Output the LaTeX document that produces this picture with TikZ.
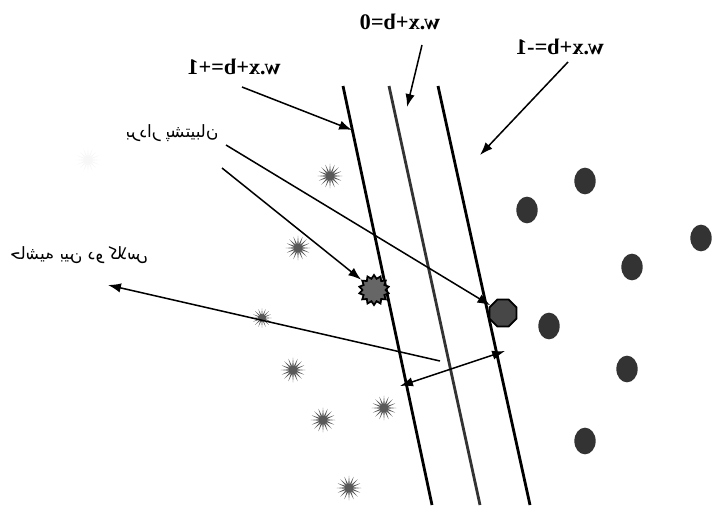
\documentclass[tikz,border=0pt]{standalone}
\usepackage{fontspec}
\usepackage{graphicx}
\newfontfamily\arabicfont[Script=Arabic]{DejaVu Sans}
\newfontfamily\eqfont{Liberation Serif}
\TeXXeTstate=1
\usetikzlibrary{shapes.geometric,arrows.meta}

\tikzset{
    pointer/.style={-{Latex[length=11pt,width=8pt]}, line width=1.3pt},
    plane/.style={line width=2.4pt},
    eqlabel/.style={font=\eqfont\bfseries\fontsize{19}{21}\selectfont, inner sep=0pt},
    falabel/.style={font=\arabicfont\fontsize{14.5}{16}\selectfont, inner sep=0pt},
    posstar/.style={star, star points=16, star point ratio=3.2, fill=black!65, minimum size=0.74cm, inner sep=0pt},
    negdot/.style={ellipse, fill=black!80, minimum width=0.64cm, minimum height=0.8cm, inner sep=0pt}
}

\begin{document}
\begin{tikzpicture}[x=0.03cm, y=-0.03cm]
    \useasboundingbox (0,0) rectangle (712,505);

    \coordinate (plus-top) at (343,86);
    \coordinate (plus-bot) at (432,505);
    \coordinate (zero-top) at (389,86);
    \coordinate (zero-bot) at (480,505);
    \coordinate (minus-top) at (438,86);
    \coordinate (minus-bot) at (530,505);

    \draw[plane] (plus-top) -- (plus-bot);
    \draw[plane, black!80] (zero-top) -- (zero-bot);
    \draw[plane] (minus-top) -- (minus-bot);

    \node (lab-plus) [eqlabel] at (234,67) {\reflectbox{w.x+b=+1}};
    \node (lab-zero) [eqlabel] at (400,22) {\reflectbox{w.x+b=0}};
    \node (lab-minus) [eqlabel] at (560,47) {\reflectbox{w.x+b=-1}};
    \node (lab-sv) [falabel] at (172,133) {\reflectbox{\beginR بردار پشتیبان\endR}};
    \node (lab-margin) [falabel] at (79,255) {\reflectbox{\beginR حاشیه بین دو کلاس\endR}};

    \node (ghost) [posstar, fill=black!3] at (88,160) {};
    \node (s1) [posstar] at (330,176) {};
    \node (s2) [posstar] at (298,248) {};
    \node (s3) [posstar, minimum size=0.58cm] at (262,318) {};
    \node (s4) [posstar] at (293,370) {};
    \node (s5) [posstar] at (323,420) {};
    \node (s6) [posstar] at (384,408) {};
    \node (s7) [posstar] at (349,488) {};
    \node (sv-pos) [star, star points=14, star point ratio=1.3, fill=black!60, draw=black, line width=1.5pt, minimum size=0.9cm, inner sep=0pt] at (374,290) {};

    \node (d1) [negdot] at (585,181) {};
    \node (d2) [negdot] at (527,210) {};
    \node (d3) [negdot] at (701,238) {};
    \node (d4) [negdot] at (632,267) {};
    \node (d5) [negdot] at (549,326) {};
    \node (d6) [negdot] at (627,369) {};
    \node (d7) [negdot] at (585,441) {};
    \node (sv-neg) [regular polygon, regular polygon sides=8, fill=black!72, draw=black, line width=1.5pt, minimum size=0.88cm, inner sep=0pt] at (503,313) {};

    \coordinate (tail-plus) at (242,87);
    \coordinate (hit-plus) at (352,130);
    \coordinate (tail-zero) at (422,45);
    \coordinate (hit-zero) at (407,107);
    \coordinate (tail-minus) at (568,62);
    \coordinate (hit-minus) at (480,155);
    \coordinate (tail-sv1) at (226,145);
    \coordinate (tail-sv2) at (222,168);
    \coordinate (tail-margin) at (440,361);
    \coordinate (hit-margin) at (108,285);
    \coordinate (gap-left) at (400,386);
    \coordinate (gap-right) at (505,351);

    \draw[pointer] (tail-plus) -- (hit-plus);
    \draw[pointer] (tail-zero) -- (hit-zero);
    \draw[pointer] (tail-minus) -- (hit-minus);
    \draw[pointer] (tail-sv1) -- (sv-neg);
    \draw[pointer] (tail-sv2) -- (sv-pos);
    \draw[pointer] (tail-margin) -- (hit-margin);
    \draw[pointer, {Latex[length=11pt,width=8pt]}-{Latex[length=11pt,width=8pt]}] (gap-left) -- (gap-right);
\end{tikzpicture}
\end{document}
